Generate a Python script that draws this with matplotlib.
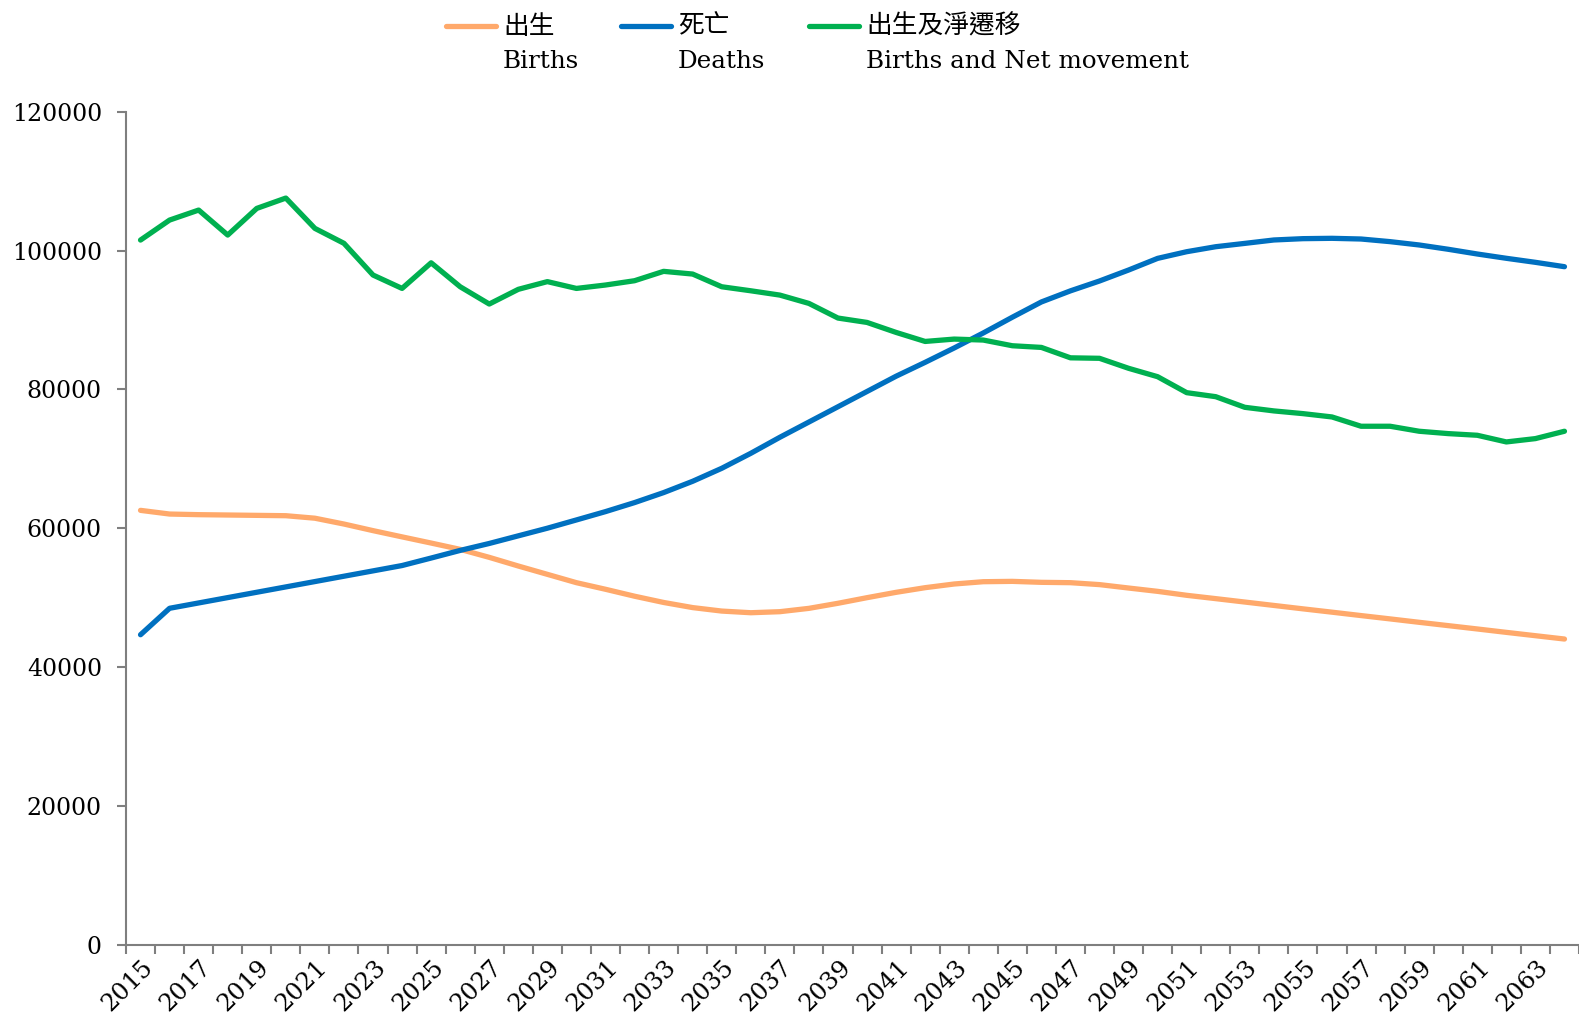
import numpy as np
import matplotlib
matplotlib.use('Agg')
import matplotlib.pyplot as plt
import matplotlib.transforms as mtransforms
from matplotlib.lines import Line2D

plt.rcParams['font.family'] = ['DejaVu Serif', 'Noto Sans CJK TC']

# データ
years = list(range(2015, 2065))

births = [62570, 62040, 61950, 61900, 61850, 61800, 61440, 60600, 59650, 58750,
          57860, 56950, 55800, 54550, 53350, 52150, 51200, 50200, 49300, 48560,
          48060, 47820, 47970, 48450, 49180, 49990, 50760, 51430, 51960, 52290,
          52340, 52200, 52150, 51870, 51380, 50900, 50330, 49850, 49360, 48870,
          48380, 47900, 47410, 46930, 46440, 45960, 45480, 44990, 44510, 44030]

deaths = [44650, 48460, 49230, 50000, 50770, 51540, 52310, 53080, 53850, 54620,
          55700, 56800, 57800, 58900, 60000, 61190, 62390, 63690, 65130, 66760,
          68630, 70790, 73100, 75300, 77500, 79700, 81900, 83900, 85970, 88130,
          90400, 92600, 94200, 95620, 97200, 98880, 99840, 100560, 101040, 101530,
          101720, 101770, 101670, 101290, 100810, 100190, 99510, 98890, 98310, 97680]

births_net = [101520, 104400, 105840, 102240, 106080, 107570, 103200, 101050, 96480, 94550,
              98240, 94790, 92300, 94420, 95530, 94550, 95040, 95660, 97010, 96620,
              94790, 94210, 93590, 92390, 90280, 89650, 88210, 86910, 87250, 87110,
              86290, 86050, 84550, 84480, 83040, 81830, 79530, 78950, 77420, 76900,
              76510, 76030, 74690, 74690, 73970, 73630, 73390, 72430, 72910, 73970]

labels_zh = ['出生', '死亡', '出生及淨遷移']
labels_en = ['Births', 'Deaths', 'Births and Net movement']
colors = ['#FFA96B', '#0070C0', '#00B050']

W, H = 1579, 1023
fig = plt.figure(figsize=(W / 100, H / 100), dpi=100)
ax = fig.add_axes([126 / W, 1 - 944.6 / H, 1 - 126 / W, (944.6 - 111.8) / H])

for vals, c in zip([births, deaths, births_net], colors):
    ax.plot(years, vals, color=c, linewidth=3.8, solid_capstyle='round', solid_joinstyle='round')

ax.set_xlim(2014.5, 2064.1)
ax.set_ylim(0, 120000)
ax.set_yticks(range(0, 120001, 20000))
ax.set_xticks(years[::2])
ax.set_xticks(np.arange(2014.5, 2065, 1), minor=True)

for s in ['top', 'right']:
    ax.spines[s].set_visible(False)
for s in ['left', 'bottom']:
    ax.spines[s].set_color('#7F7F7F')
    ax.spines[s].set_linewidth(1.5)

ax.tick_params(axis='y', length=6.3, width=1.5, color='#7F7F7F', labelsize=17, pad=11)
ax.tick_params(axis='x', which='major', length=0, labelsize=17.5, pad=14)
ax.tick_params(axis='x', which='minor', length=6.5, width=1.5, color='#7F7F7F')
shift = mtransforms.ScaledTranslation(9 / 100, 0, fig.dpi_scale_trans)
for lab in ax.get_xticklabels():
    lab.set_rotation(45)
    lab.set_ha('right')
    lab.set_va('center')
    lab.set_rotation_mode('anchor')
    lab.set_transform(lab.get_transform() + shift)

# 凡例
hx = [446, 621, 809]
for x0, c, zh, en in zip(hx, colors, labels_zh, labels_en):
    fig.add_artist(Line2D([x0 / W, (x0 + 50) / W], [1 - 25.5 / H, 1 - 25.5 / H],
                          color=c, linewidth=3.8, solid_capstyle='round'))
    fig.text((x0 + 57) / W, 1 - 26 / H, zh, fontsize=18.5, va='center', ha='left')
    fig.text((x0 + 57) / W, 1 - 62 / H, en, fontsize=17.7, va='center', ha='left')

plt.savefig('out.png', dpi=100)
